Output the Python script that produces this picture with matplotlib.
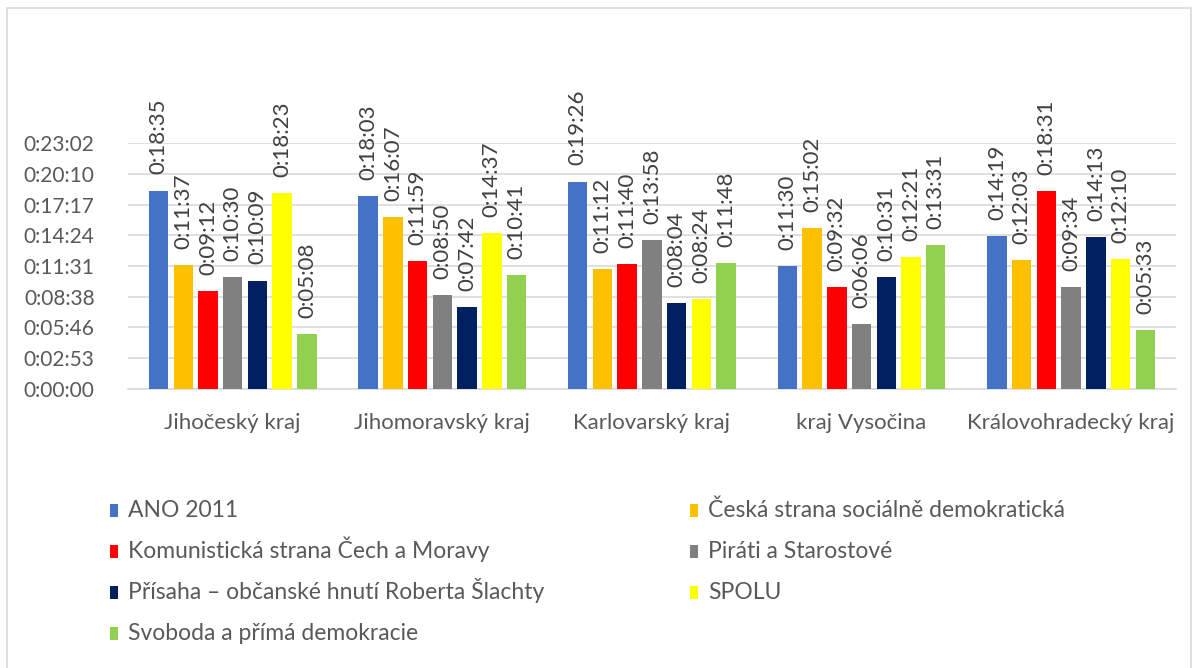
import matplotlib.pyplot as plt
import numpy as np
from matplotlib.patches import Rectangle
from matplotlib.ticker import FuncFormatter, MultipleLocator

plt.rcParams['font.family'] = ['Lato', 'DejaVu Sans']

regions = ["Jihočeský kraj", "Jihomoravský kraj", "Karlovarský kraj",
           "kraj Vysočina", "Královohradecký kraj"]
parties = ["ANO 2011", "Česká strana sociálně demokratická",
           "Komunistická strana Čech a Moravy", "Piráti a Starostové",
           "Přísaha – občanské hnutí Roberta Šlachty", "SPOLU",
           "Svoboda a přímá demokracie"]
colors = ["#4472C4", "#FFC000", "#FF0000", "#808080", "#002060", "#FFFF00", "#92D050"]

# speaking time (mm:ss) per party, one list per party across regions
times = {
    "ANO 2011": ["18:35", "18:03", "19:26", "11:30", "14:19"],
    "Česká strana sociálně demokratická": ["11:37", "16:07", "11:12", "15:02", "12:03"],
    "Komunistická strana Čech a Moravy": ["09:12", "11:59", "11:40", "09:32", "18:31"],
    "Piráti a Starostové": ["10:30", "08:50", "13:58", "06:06", "09:34"],
    "Přísaha – občanské hnutí Roberta Šlachty": ["10:09", "07:42", "08:04", "10:31", "14:13"],
    "SPOLU": ["18:23", "14:37", "08:24", "12:21", "12:10"],
    "Svoboda a přímá demokracie": ["05:08", "10:41", "11:48", "13:31", "05:33"],
}


def to_days(s):
    m, sec = s.split(":")
    return (int(m) * 60 + int(sec)) / 86400


def fmt_time(v, pos=None):
    total = int(round(v * 86400))
    h, rem = divmod(total, 3600)
    m, s = divmod(rem, 60)
    return f"{h}:{m:02d}:{s:02d}"


W, H = 1198, 668
fig = plt.figure(figsize=(W / 100, H / 100), dpi=100)
ax = fig.add_axes([0.1068, 0.4177, 0.8748, 0.3682])

x = np.arange(len(regions))
slot = 0.118
width = 0.093
text_col = "#595959"

for i, p in enumerate(parties):
    vals = [to_days(t) for t in times[p]]
    xs = x + (i - 3) * slot
    ax.bar(xs, vals, width=width, color=colors[i], zorder=3)
    for xi, v, t in zip(xs, vals, times[p]):
        ax.text(xi, v + 0.00105, "0:" + t, rotation=90, ha="center", va="bottom",
                fontsize=16, color="#404040", zorder=4, clip_on=False)

ax.set_ylim(0, 0.016)
ax.set_xlim(-0.5, 4.5)
ax.yaxis.set_major_locator(MultipleLocator(0.002))
ax.yaxis.set_major_formatter(FuncFormatter(fmt_time))
ax.set_xticks(x)
ax.set_xticklabels(regions, fontsize=16)
ax.grid(axis="y", color="#d9d9d9", linewidth=1.2, zorder=0)
for sp in ["top", "right", "left"]:
    ax.spines[sp].set_visible(False)
ax.spines["bottom"].set_color("#d9d9d9")
ax.spines["bottom"].set_linewidth(1.2)
ax.tick_params(axis="both", length=0, labelcolor=text_col)
ax.tick_params(axis="y", pad=24, labelsize=15)
ax.tick_params(axis="x", pad=17)

# legend: two columns, filled row by row
rows_y = [510, 551, 592, 633]
cols_x = [110, 690]
for k, (p, c) in enumerate(zip(parties, colors)):
    r, col = divmod(k, 2)
    px, py = cols_x[col], rows_y[r]
    fig.patches.append(Rectangle((px / W, 1 - (py + 7) / H), 8 / W, 13 / H,
                                 transform=fig.transFigure, facecolor=c,
                                 edgecolor="none"))
    fig.text((px + 18) / W, 1 - (py + 7) / H, p, fontsize=16.5, color=text_col,
             ha="left", va="baseline")

# chart border
fig.patches.append(Rectangle((0.006, -0.05), 0.988, 1.038, transform=fig.transFigure,
                             fill=False, edgecolor="#d9d9d9", linewidth=1.2))

fig.savefig("out.png", dpi=100)
